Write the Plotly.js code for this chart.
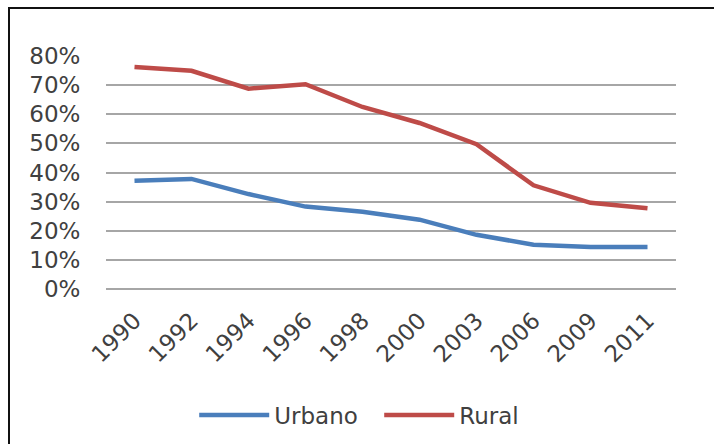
<!DOCTYPE html>
<html>
<head>
<meta charset="utf-8">
<script src="https://cdn.plot.ly/plotly-3.0.1.min.js"></script>
<style>
  html, body { margin: 0; padding: 0; background: #fff; overflow: hidden; }
  #wrap { position: relative; width: 714px; height: 444px; overflow: hidden; }
  #chart { position: absolute; left: 0; top: 0; width: 714px; height: 444px; }
  #frame { position: absolute; left: 8px; top: 7px; width: 800px; height: 600px;
           border: 2px solid #111; pointer-events: none; }
</style>
</head>
<body>
<div id="wrap">
  <div id="chart"></div>
  <div id="frame"></div>
</div>
<script>
var years = ["1990", "1992", "1994", "1996", "1998", "2000", "2003", "2006", "2009", "2011"];
var urbano = [37.2, 37.8, 32.6, 28.3, 26.5, 23.8, 18.6, 15.2, 14.4, 14.4];
var rural = [76.2, 74.9, 68.8, 70.3, 62.5, 57.0, 49.7, 35.6, 29.6, 27.7];
var yTicks = [0, 10, 20, 30, 40, 50, 60, 70, 80];
var yTickText = yTicks.map(function (v) { return v + "%"; });

var font = { family: "DejaVu Sans, Verdana, sans-serif", size: 23, color: "#404040" };

var traces = [
  { type: "scatter", mode: "lines", name: "Urbano", x: years, y: urbano,
    line: { color: "#4A7EBB", width: 4.5 } },
  { type: "scatter", mode: "lines", name: "Rural", x: years, y: rural,
    line: { color: "#BE4B48", width: 4.5 } }
];

var layout = {
  width: 714, height: 444,
  margin: { l: 106, r: 38, t: 56, b: 155, autoexpand: false },
  paper_bgcolor: "#ffffff", plot_bgcolor: "#ffffff",
  font: font,
  showlegend: true,
  legend: { orientation: "h", xref: "container", yref: "container",
            x: 0.272, xanchor: "left", y: 0.065, yanchor: "middle",
            font: font, itemwidth: 70, entrywidth: 100, entrywidthmode: "pixels",
            bgcolor: "rgba(0,0,0,0)", traceorder: "normal" },
  xaxis: {
    type: "category", range: [-0.5, 9.5], tickangle: -45, tickfont: font,
    showgrid: false, zeroline: false, showline: false,
    ticks: "outside", ticklen: 8, tickcolor: "rgba(0,0,0,0)",
    fixedrange: true
  },
  yaxis: {
    range: [0, 80], tickvals: yTicks, ticktext: yTickText, tickfont: font,
    showgrid: true, gridcolor: "#a6a6a6", gridwidth: 2,
    zeroline: true, zerolinecolor: "#a6a6a6", zerolinewidth: 2,
    showline: false, ticks: "outside", ticklen: 20, tickcolor: "rgba(0,0,0,0)",
    fixedrange: true
  }
};

Plotly.newPlot("chart", traces, layout, { displayModeBar: false, staticPlot: true });
</script>
</body>
</html>
